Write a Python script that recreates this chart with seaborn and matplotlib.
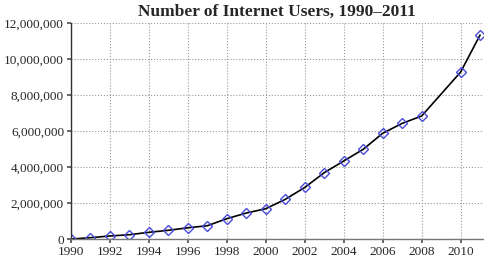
import matplotlib
matplotlib.use("Agg")
import matplotlib.pyplot as plt
import matplotlib.ticker as mticker
import seaborn as sns
import pandas as pd

years = [1990, 1991, 1992, 1993, 1994, 1995, 1996, 1997, 1998, 1999, 2000,
         2001, 2002, 2003, 2004, 2005, 2006, 2007, 2008, 2010, 2011]
values = [15000, 90000, 185000, 255000, 390000, 500000, 640000, 755000,
          1145000, 1460000, 1700000, 2220000, 2880000, 3700000, 4350000,
          5000000, 5890000, 6440000, 6850000, 9290000, 11350000]
title = "Number of Internet Users, 1990\u20132011"
xticks = list(range(1990, 2012, 2))
yticks = [0, 2000000, 4000000, 6000000, 8000000, 10000000, 12000000]

df = pd.DataFrame({"year": years, "value": values})

sns.set_theme(style="white")
plt.rcParams["font.family"] = ["Liberation Serif", "DejaVu Serif"]

fig = plt.figure(figsize=(4.84, 2.63), dpi=100)
ax = fig.add_axes([71 / 484, 1 - 239.3 / 263, (483 - 71) / 484, (239.3 - 23.3) / 263])

sns.lineplot(data=df, x="year", y="value", ax=ax, color="black", linewidth=1.2,
             marker="D", markersize=5.5, markerfacecolor="none",
             markeredgecolor="#4a4ad8", markeredgewidth=1.0)

ax.set_xlim(1990, 2011.15)
ax.set_ylim(0, 12000000)
ax.set_xticks(xticks)
ax.set_yticks(yticks)
ax.yaxis.set_major_formatter(mticker.FuncFormatter(lambda v, p: f"{int(v):,}"))
ax.grid(True, linestyle=":", color="#999999", linewidth=0.8)
ax.set_xlabel("")
ax.set_ylabel("")
ax.tick_params(axis="both", labelsize=9.5, length=3, direction="out", color="#555555",
               left=True, bottom=True, pad=2)
for s in ["top", "right"]:
    ax.spines[s].set_visible(False)
ax.spines["left"].set_color("#333333")
ax.spines["bottom"].set_color("#777777")
ax.spines["left"].set_linewidth(1.0)
ax.spines["bottom"].set_linewidth(1.0)
ax.set_title(title, fontsize=12.5, fontweight="bold", pad=5)

fig.savefig("out.png", dpi=100)
